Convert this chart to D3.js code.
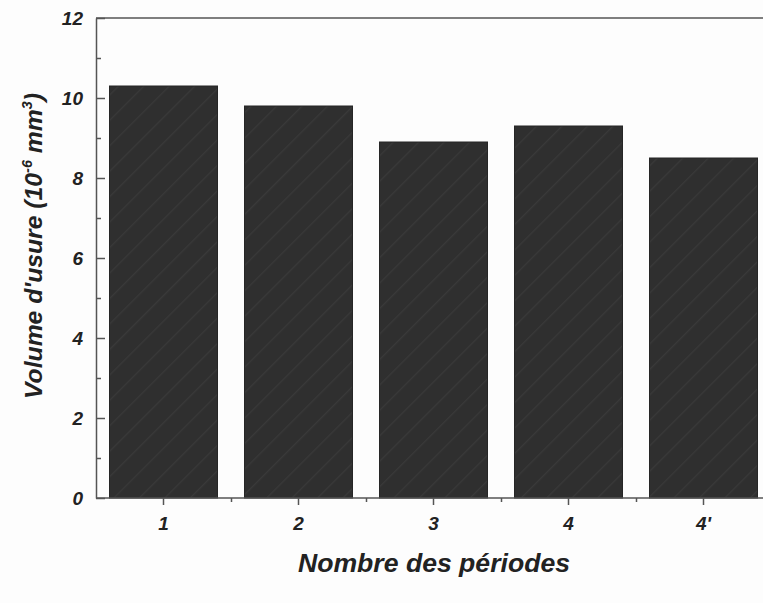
<!DOCTYPE html>
<html>
<head>
<meta charset="utf-8">
<script src="https://cdn.jsdelivr.net/npm/d3@7"></script>
<style>
  html, body { margin: 0; padding: 0; background: #fdfdfd; overflow: hidden; }
  svg { display: block; }
  text { font-family: "Liberation Sans", Arial, sans-serif; font-weight: bold; font-style: italic; fill: #222; }
</style>
</head>
<body>
<div id="chart"></div>
<script>
const categories = ["1", "2", "3", "4", "4'"];
const values = [10.3, 9.8, 8.9, 9.3, 8.5];
const yMajorTicks = [0, 2, 4, 6, 8, 10, 12];
const yMinorTicks = [1, 3, 5, 7, 9, 11];
const xLabel = "Nombre des périodes";

const W = 763, H = 603;
const mLeft = 96, mTop = 18, mBottom = 498;
const step = 135;
const mRight = mLeft + categories.length * step;

const svg = d3.select("#chart").append("svg").attr("width", W).attr("height", H);

const defs = svg.append("defs");
const pat = defs.append("pattern").attr("id", "hatch").attr("patternUnits", "userSpaceOnUse")
  .attr("width", 18).attr("height", 18).attr("patternTransform", "rotate(45)");
pat.append("rect").attr("width", 18).attr("height", 18).attr("fill", "#2f2f2f");
pat.append("line").attr("x1", 0).attr("y1", 0).attr("x2", 0).attr("y2", 18)
  .attr("stroke", "#393939").attr("stroke-width", 2.5);

const x = d3.scaleBand().domain(categories).range([mLeft, mRight]).paddingInner(0.2).paddingOuter(0.1);
const xl = d3.scaleLinear().domain([0, categories.length]).range([mLeft, mRight]);
const y = d3.scaleLinear().domain([0, 12]).range([mBottom, mTop]);

// bars
svg.append("g").selectAll("rect").data(values).join("rect")
  .attr("x", (d, i) => x(categories[i]))
  .attr("y", d => y(d))
  .attr("width", x.bandwidth())
  .attr("height", d => y(0) - y(d))
  .attr("fill", "url(#hatch)")
  .attr("stroke", "#262626").attr("stroke-width", 1);

// top frame line
svg.append("line").attr("x1", mLeft).attr("x2", W).attr("y1", y(12)).attr("y2", y(12))
  .attr("stroke", "#555").attr("stroke-width", 1.5);

const styleAxis = g => {
  g.selectAll(".domain, .tick line").attr("stroke", "#555").attr("stroke-width", 1.5);
  g.selectAll("text").attr("fill", "#222").attr("font-size", 19)
    .attr("font-family", '"Liberation Sans", Arial, sans-serif')
    .attr("font-weight", "bold").attr("font-style", "italic");
};

// y axis
svg.append("g").attr("transform", `translate(${mLeft},0)`)
  .call(d3.axisLeft(y).tickValues(yMajorTicks).tickSizeInner(-9).tickSizeOuter(0).tickPadding(13))
  .call(styleAxis);
svg.append("g").attr("transform", `translate(${mLeft},0)`)
  .call(d3.axisLeft(y).tickValues(yMinorTicks).tickSizeInner(-5).tickSizeOuter(0).tickFormat(""))
  .call(g => g.select(".domain").remove())
  .call(styleAxis);

// x axis
svg.append("g").attr("transform", `translate(0,${mBottom})`)
  .call(d3.axisBottom(x).tickSizeInner(7).tickSizeOuter(0).tickPadding(12))
  .call(g => g.select(".domain").attr("d", `M${mLeft},0H${W}`))
  .call(styleAxis);
svg.append("g").attr("transform", `translate(0,${mBottom})`)
  .call(d3.axisBottom(xl).tickValues(d3.range(1, categories.length)).tickSizeInner(4).tickSizeOuter(0).tickFormat(""))
  .call(g => g.select(".domain").remove())
  .call(styleAxis);

// x label
svg.append("text").attr("x", 434).attr("y", 572).attr("text-anchor", "middle")
  .attr("font-size", 25).attr("textLength", 272).attr("lengthAdjust", "spacingAndGlyphs")
  .text(xLabel);

// y label
const yl = svg.append("text").attr("transform", "translate(42,246) rotate(-90)")
  .attr("text-anchor", "middle").attr("font-size", 24)
  .attr("textLength", 306).attr("lengthAdjust", "spacingAndGlyphs");
yl.append("tspan").text("Volume d'usure (10");
yl.append("tspan").attr("dy", -10).attr("font-size", 14).text("-6");
yl.append("tspan").attr("dy", 10).text(" mm");
yl.append("tspan").attr("dy", -10).attr("font-size", 14).text("3");
yl.append("tspan").attr("dy", 10).text(")");
</script>
</body>
</html>
